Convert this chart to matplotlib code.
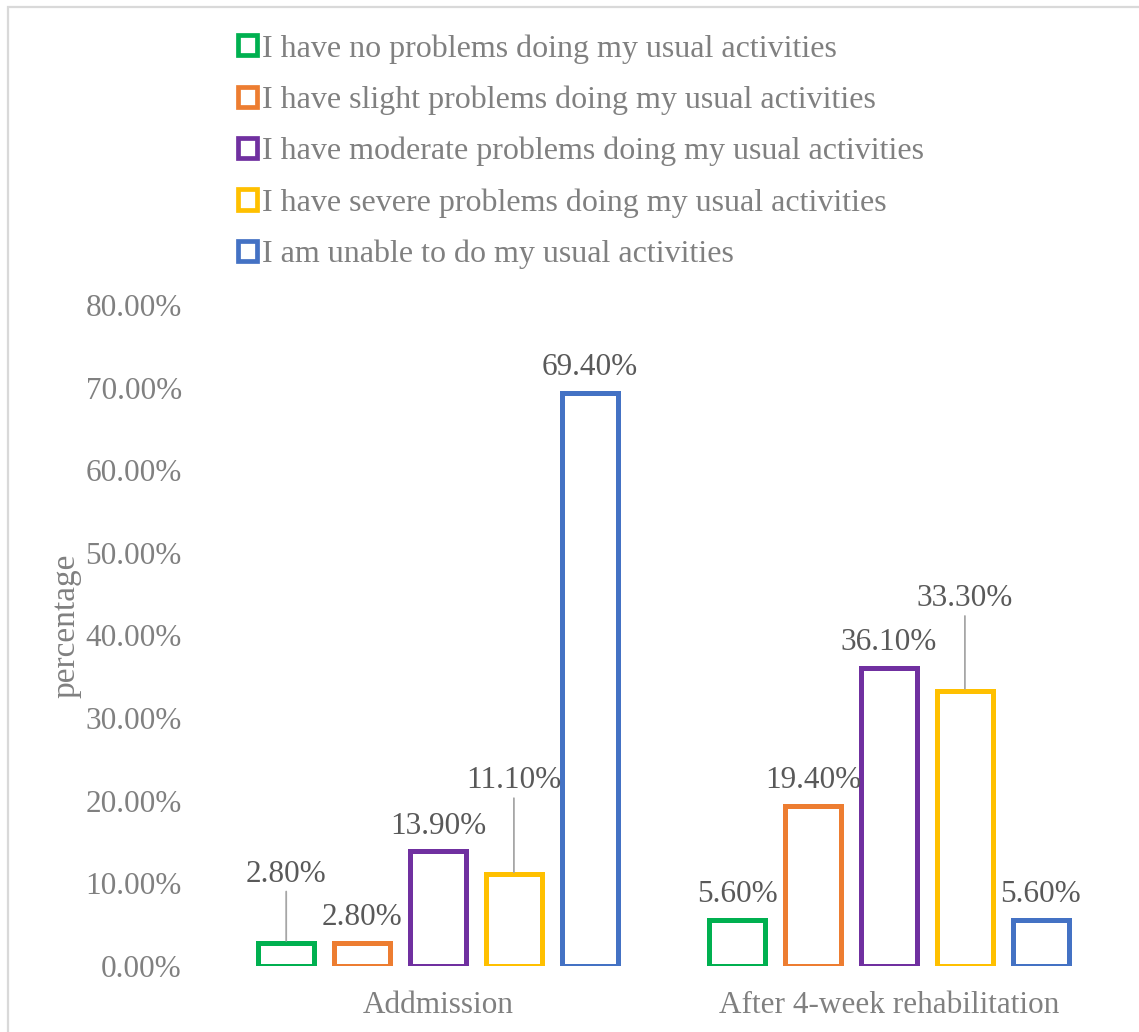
import matplotlib
matplotlib.use("Agg")
import matplotlib.pyplot as plt
from matplotlib.patches import Rectangle
from matplotlib.ticker import FuncFormatter

# Survey answers (EQ-5D "usual activities") before and after rehabilitation
groups = ["Addmission", "After 4-week rehabilitation"]
answers = [
    "I have no problems doing my usual activities",
    "I have slight problems doing my usual activities",
    "I have moderate problems doing my usual activities",
    "I have severe problems doing my usual activities",
    "I am unable to do my usual activities",
]
admission = [2.8, 2.8, 13.9, 11.1, 69.4]
after_rehab = [5.6, 19.4, 36.1, 33.3, 5.6]
yticks = [0, 10, 20, 30, 40, 50, 60, 70, 80]

colors = ["#00B050", "#ED7D31", "#7030A0", "#FFC000", "#4472C4"]
LABEL_GRAY = "#595959"
AXIS_GRAY = "#808080"
FONT = ["Liberation Serif", "DejaVu Serif"]
FS = 22.5

plt.rcParams["font.family"] = FONT

W, H = 1139, 1032
fig = plt.figure(figsize=(W / 100, H / 100), dpi=100)
ax = fig.add_axes([212.5 / W, 1 - 966 / H, 902 / W, 661 / H])

series = list(zip(admission, after_rehab))
step = 0.1683
width = 0.124
lw_pt = 5 * 0.72

bars = []
for i, (name, vals) in enumerate(zip(answers, series)):
    xs = [g + (i - 2) * step for g in range(len(groups))]
    b = ax.bar(xs, vals, width=width, facecolor="white", edgecolor=colors[i],
               linewidth=lw_pt, label=name, zorder=2)
    bars.append(b)

# data labels; some are lifted with a leader line
lifted = {(0, 0): 11.1, (3, 0): 22.4, (3, 1): 44.45}
for i, b in enumerate(bars):
    for g, rect in enumerate(b):
        v = rect.get_height()
        xc = rect.get_x() + rect.get_width() / 2
        txt = f"{v:.2f}%"
        if (i, g) in lifted:
            ly = lifted[(i, g)]
            ax.annotate(txt, xy=(xc, v), xytext=(xc, ly), textcoords="data",
                        ha="center", va="center", fontsize=FS, color=LABEL_GRAY,
                        arrowprops=dict(arrowstyle="-", color="#a6a6a6", lw=1.3,
                                        shrinkA=0, shrinkB=1.5))
        else:
            ax.annotate(txt, xy=(xc, v), xytext=(0, 25 * 0.72),
                        textcoords="offset points", ha="center", va="center",
                        fontsize=FS, color=LABEL_GRAY)

ax.set_ylim(0, 80)
ax.set_xlim(-0.5, len(groups) - 0.5)
ax.set_yticks(yticks)
ax.yaxis.set_major_formatter(FuncFormatter(lambda v, _: f"{v:.2f}%"))
ax.set_xticks(range(len(groups)))
ax.set_xticklabels(groups)
ax.tick_params(axis="both", length=0, labelsize=FS, labelcolor=AXIS_GRAY)
ax.tick_params(axis="y", pad=22)
ax.tick_params(axis="x", pad=18)
for s in ax.spines.values():
    s.set_visible(False)

fig.text(66 / W, 1 - 626 / H, "percentage", rotation=90, ha="center", va="center",
         fontsize=24, color=AXIS_GRAY)

leg = fig.legend(handles=bars, labels=answers, loc="upper left",
                 bbox_to_anchor=(238 / W, 1 - 34 / H), frameon=False,
                 fontsize=23, handlelength=0.6, handleheight=0.6,
                 handletextpad=0.15, labelspacing=0.686, borderpad=0, borderaxespad=0)
for t in leg.get_texts():
    t.set_color(AXIS_GRAY)
for h in leg.legend_handles:
    h.set_linewidth(3.4)

# chart frame (left and top edges visible)
fig.patches.append(Rectangle((7.5 / W, -0.1), 1.2, 1 - 6.5 / H + 0.1,
                             transform=fig.transFigure, fill=False,
                             edgecolor="#d9d9d9", linewidth=1.6))

fig.savefig("out.png", dpi=100, facecolor="white")
